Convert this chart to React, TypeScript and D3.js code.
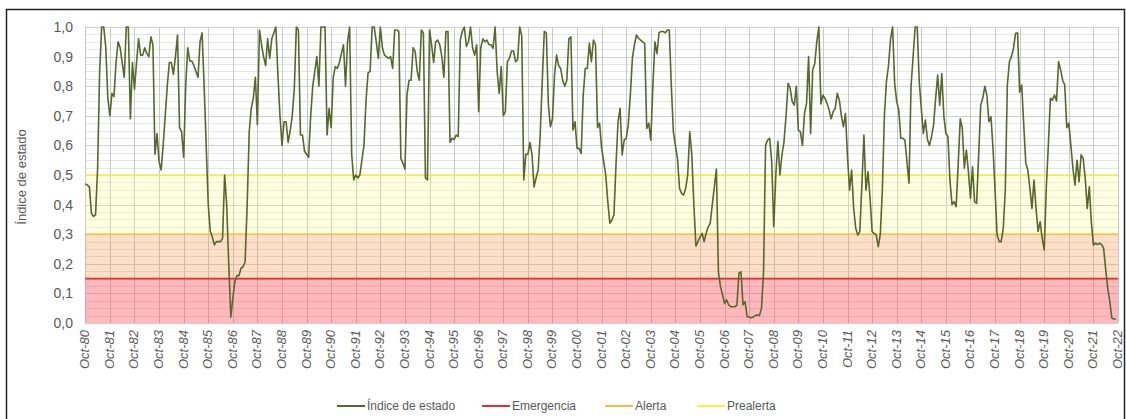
import React from "react";
import * as d3 from "d3";

// Índice de estado, valores mensuales desde oct-1980 (año hidrológico)
const serie1980s = [
  0.47, 0.466, 0.46, 0.37, 0.36, 0.365, 0.52, 0.85, 1.0, 1.0, 0.93, 0.76,
  0.7, 0.776, 0.765, 0.88, 0.95, 0.93, 0.88, 0.83, 1.0, 1.0, 0.69, 0.88,
  0.79, 0.88, 0.96, 0.905, 0.905, 0.93, 0.91, 0.9, 0.967, 0.94, 0.57, 0.64,
  0.545, 0.517, 0.6, 0.7, 0.8, 0.88, 0.88, 0.84, 0.9, 0.973, 0.66, 0.646,
  0.56, 0.8, 0.93, 0.885, 0.885, 0.87, 0.85, 0.83, 0.95, 0.98, 0.8, 0.6,
  0.4, 0.31, 0.29, 0.264, 0.275, 0.275, 0.275, 0.286, 0.5, 0.4, 0.2, 0.02,
  0.083, 0.14, 0.16, 0.16, 0.185, 0.19, 0.207, 0.4, 0.646, 0.725, 0.76, 0.83,
  0.67, 0.99, 0.94, 0.9, 0.87, 0.96, 0.894, 0.96, 0.98, 1.0, 0.84, 0.7,
  0.6, 0.68, 0.68, 0.61, 0.65, 0.7, 0.79, 1.0, 0.99, 0.635, 0.635, 0.58,
  0.57, 0.56, 0.7, 0.8, 0.85, 0.9, 0.8, 1.0, 1.0, 1.0, 0.635, 0.725,
];
const serie1990s = [
  0.66, 0.83, 0.866, 0.86, 0.88, 0.91, 0.94, 0.8, 0.95, 1.0, 0.57, 0.483,
  0.5, 0.49, 0.5, 0.55, 0.6, 0.75, 0.845, 0.85, 1.0, 1.0, 0.95, 0.894,
  1.0, 0.93, 0.905, 0.9, 0.894, 0.9, 0.86, 0.99, 0.99, 0.985, 0.556, 0.54,
  0.52, 0.77, 0.82, 0.82, 0.93, 0.917, 0.85, 0.82, 0.99, 0.98, 0.49, 0.483,
  0.99, 0.94, 0.88, 0.95, 0.956, 0.94, 0.9, 0.83, 0.985, 0.985, 0.61, 0.624,
  0.62, 0.635, 0.63, 0.956, 0.985, 1.0, 0.934, 0.95, 1.0, 0.93, 0.905, 0.94,
  0.714, 0.93, 0.96, 0.95, 0.956, 0.94, 0.94, 0.928, 1.0, 0.85, 0.776, 0.866,
  0.7, 0.714, 0.883, 0.894, 0.919, 0.919, 0.883, 0.89, 1.0, 0.97, 0.483, 0.57,
  0.57, 0.61, 0.57, 0.46, 0.49, 0.517, 0.635, 0.815, 0.985, 0.98, 0.737, 0.663,
  0.69, 0.838, 0.905, 0.87, 0.86, 0.82, 0.8, 0.82, 0.96, 0.967, 0.652, 0.68,
];
const serie2000s = [
  0.59, 0.59, 0.573, 0.77, 0.86, 0.86, 0.945, 0.883, 0.956, 0.94, 0.66, 0.675,
  0.59, 0.545, 0.5, 0.41, 0.337, 0.348, 0.365, 0.534, 0.68, 0.725, 0.568, 0.618,
  0.624, 0.67, 0.77, 0.894, 0.94, 0.973, 0.962, 0.956, 0.95, 0.945, 0.657, 0.675,
  0.618, 0.8, 0.95, 0.91, 0.98, 0.985, 0.985, 0.98, 0.99, 0.99, 0.8, 0.646,
  0.6, 0.556, 0.455, 0.438, 0.432, 0.455, 0.5, 0.646, 0.568, 0.4, 0.26, 0.275,
  0.29, 0.303, 0.275, 0.303, 0.325, 0.337, 0.4, 0.46, 0.52, 0.17, 0.123, 0.095,
  0.066, 0.078, 0.061, 0.055, 0.055, 0.055, 0.06, 0.168, 0.173, 0.061, 0.072, 0.021,
  0.02, 0.018, 0.02, 0.025, 0.027, 0.025, 0.05, 0.17, 0.6, 0.618, 0.624, 0.545,
  0.325, 0.5, 0.613, 0.5, 0.568, 0.613, 0.7, 0.81, 0.793, 0.748, 0.736, 0.8,
  0.652, 0.646, 0.6, 0.708, 0.742, 0.9, 0.64, 0.855, 0.877, 0.95, 1.0, 0.74,
];
const serie2010s = [
  0.77, 0.759, 0.742, 0.72, 0.69, 0.714, 0.725, 0.776, 0.753, 0.7, 0.663, 0.708,
  0.56, 0.449, 0.517, 0.387, 0.32, 0.297, 0.309, 0.466, 0.635, 0.449, 0.511, 0.421,
  0.309, 0.303, 0.297, 0.258, 0.3, 0.45, 0.703, 0.815, 0.87, 0.96, 1.0, 0.81,
  0.748, 0.72, 0.624, 0.624, 0.618, 0.545, 0.472, 0.8, 0.9, 1.0, 1.0, 0.815,
  0.725, 0.64, 0.686, 0.62, 0.6, 0.63, 0.669, 0.759, 0.838, 0.736, 0.843, 0.7,
  0.64, 0.63, 0.48, 0.4, 0.41, 0.393, 0.534, 0.69, 0.658, 0.523, 0.584, 0.511,
  0.421, 0.528, 0.41, 0.404, 0.568, 0.736, 0.759, 0.8, 0.77, 0.68, 0.697, 0.59,
  0.45, 0.297, 0.275, 0.275, 0.32, 0.45, 0.804, 0.883, 0.9, 0.928, 0.979, 0.98,
  0.78, 0.804, 0.669, 0.54, 0.517, 0.455, 0.387, 0.483, 0.387, 0.309, 0.342, 0.286,
  0.247, 0.455, 0.6, 0.759, 0.753, 0.77, 0.75, 0.883, 0.855, 0.82, 0.804, 0.66,
];
const serie2020s = [
  0.675, 0.6, 0.523, 0.466, 0.55, 0.477, 0.568, 0.556, 0.489, 0.387, 0.46, 0.34,
  0.263, 0.27, 0.265, 0.27, 0.265, 0.252, 0.18, 0.117, 0.072, 0.016, 0.0135, 0.0135,
];

const indiceEstado = [...serie1980s, ...serie1990s, ...serie2000s, ...serie2010s, ...serie2020s];

const tickLabels = [
  "Oct-80", "Oct-81", "Oct-82", "Oct-83", "Oct-84", "Oct-85", "Oct-86", "Oct-87",
  "Oct-88", "Oct-89", "Oct-90", "Oct-91", "Oct-92", "Oct-93", "Oct-94", "Oct-95",
  "Oct-96", "Oct-97", "Oct-98", "Oct-99", "Oct-00", "Oct-01", "Oct-02", "Oct-03",
  "Oct-04", "Oct-05", "Oct-06", "Oct-07", "Oct-08", "Oct-09", "Oct-10", "Oct-11",
  "Oct-12", "Oct-13", "Oct-14", "Oct-15", "Oct-16", "Oct-17", "Oct-18", "Oct-19",
  "Oct-20", "Oct-21", "Oct-22",
];

const yTicks = [0, 0.1, 0.2, 0.3, 0.4, 0.5, 0.6, 0.7, 0.8, 0.9, 1.0];

const emergencia = 0.15;
const alerta = 0.3;
const prealerta = 0.5;

const legendLabels = ["Índice de estado", "Emergencia", "Alerta", "Prealerta"];

const W = 1126;
const H = 419;
const FONT = "'Liberation Sans', Arial, sans-serif";

const App = () => {
  const svgRef = React.useRef(null);

  React.useEffect(() => {
    const svg = d3.select(svgRef.current);
    svg.selectAll("*").remove();

    const months = (tickLabels.length - 1) * 12;
    const x = d3.scaleLinear().domain([0, months]).range([85.3, 1118]);
    const y = d3.scaleLinear().domain([0, 1]).range([323, 27]);

    svg.append("rect").attr("width", W).attr("height", H).attr("fill", "#fff");

    // grid
    const minor = d3.range(0, 1.0001, 0.025);
    svg.append("g")
      .selectAll("line")
      .data(minor)
      .enter()
      .append("line")
      .attr("x1", x(0))
      .attr("x2", x(months))
      .attr("y1", (d) => Math.round(y(d)) + 0.5)
      .attr("y2", (d) => Math.round(y(d)) + 0.5)
      .attr("stroke", "#e6e6e6");
    svg.append("g")
      .selectAll("line")
      .data(yTicks)
      .enter()
      .append("line")
      .attr("x1", x(0))
      .attr("x2", x(months))
      .attr("y1", (d) => Math.round(y(d)) + 0.5)
      .attr("y2", (d) => Math.round(y(d)) + 0.5)
      .attr("stroke", "#cfcfcf");
    svg.append("g")
      .selectAll("line")
      .data(tickLabels)
      .enter()
      .append("line")
      .attr("x1", (d, i) => Math.round(x(i * 12)) + 0.5)
      .attr("x2", (d, i) => Math.round(x(i * 12)) + 0.5)
      .attr("y1", y(1))
      .attr("y2", y(0))
      .attr("stroke", "#c8c8c8");

    // bands
    const bands = [
      { lo: 0, hi: emergencia, color: "rgb(255,80,90)", op: 0.4 },
      { lo: emergencia, hi: alerta, color: "rgb(247,150,70)", op: 0.3 },
      { lo: alerta, hi: prealerta, color: "rgb(255,255,110)", op: 0.2 },
    ];
    svg.append("g")
      .selectAll("rect")
      .data(bands)
      .enter()
      .append("rect")
      .attr("x", x(0))
      .attr("width", x(months) - x(0))
      .attr("y", (d) => y(d.hi))
      .attr("height", (d) => y(d.lo) - y(d.hi))
      .attr("fill", (d) => d.color)
      .attr("opacity", (d) => d.op);

    const thresholds = [
      { v: emergencia, color: "#e0302a" },
      { v: alerta, color: "#f5bb3c" },
      { v: prealerta, color: "#f7f23a" },
    ];
    svg.append("g")
      .selectAll("line")
      .data(thresholds)
      .enter()
      .append("line")
      .attr("x1", x(0))
      .attr("x2", x(months))
      .attr("y1", (d) => y(d.v))
      .attr("y2", (d) => y(d.v))
      .attr("stroke", (d) => d.color)
      .attr("stroke-width", 1.6);

    const line = d3.line()
      .x((d, i) => x(i))
      .y((d) => y(d));
    svg.append("path")
      .attr("d", line(indiceEstado))
      .attr("fill", "none")
      .attr("stroke", "#56682c")
      .attr("stroke-width", 1.6)
      .attr("stroke-linejoin", "round");

    // y labels
    svg.append("g")
      .selectAll("text")
      .data(yTicks)
      .enter()
      .append("text")
      .attr("x", 73)
      .attr("y", (d) => y(d) + 5)
      .attr("text-anchor", "end")
      .attr("font-family", FONT)
      .attr("font-size", 14)
      .attr("fill", "#595959")
      .text((d) => d3.format(".1f")(d).replace(".", ","));

    svg.append("text")
      .attr("transform", `translate(26,177) rotate(-90)`)
      .attr("text-anchor", "middle")
      .attr("font-family", FONT)
      .attr("font-size", 13)
      .attr("fill", "#595959")
      .text("Índice de estado");

    // x labels
    svg.append("g")
      .selectAll("text")
      .data(tickLabels)
      .enter()
      .append("text")
      .attr("transform", (d, i) => `translate(${x(i * 12) + 4},330) rotate(-90)`)
      .attr("text-anchor", "end")
      .attr("font-family", FONT)
      .attr("font-size", 13)
      .attr("font-style", "italic")
      .attr("fill", "#595959")
      .text((d) => d);

    // legend
    const legendColors = ["#56682c", "#e0302a", "#f5bb3c", "#f7f23a"];
    const legendX = [337, 482, 605, 697];
    const lg = svg.append("g");
    legendLabels.forEach((label, i) => {
      lg.append("line")
        .attr("x1", legendX[i])
        .attr("x2", legendX[i] + 28)
        .attr("y1", 406)
        .attr("y2", 406)
        .attr("stroke", legendColors[i])
        .attr("stroke-width", 2);
      lg.append("text")
        .attr("x", legendX[i] + 30)
        .attr("y", 410)
        .attr("font-family", FONT)
        .attr("font-size", 12)
        .attr("fill", "#595959")
        .text(label);
    });

    svg.append("rect")
      .attr("x", 6.5)
      .attr("y", 9.5)
      .attr("width", 1118)
      .attr("height", 420)
      .attr("fill", "none")
      .attr("stroke", "#222")
      .attr("stroke-width", 1.5);
  }, []);

  return (
    <svg
      ref={svgRef}
      width={W}
      height={H}
      style={{ position: "absolute", left: 0, top: 0 }}
    />
  );
};

export default App;
